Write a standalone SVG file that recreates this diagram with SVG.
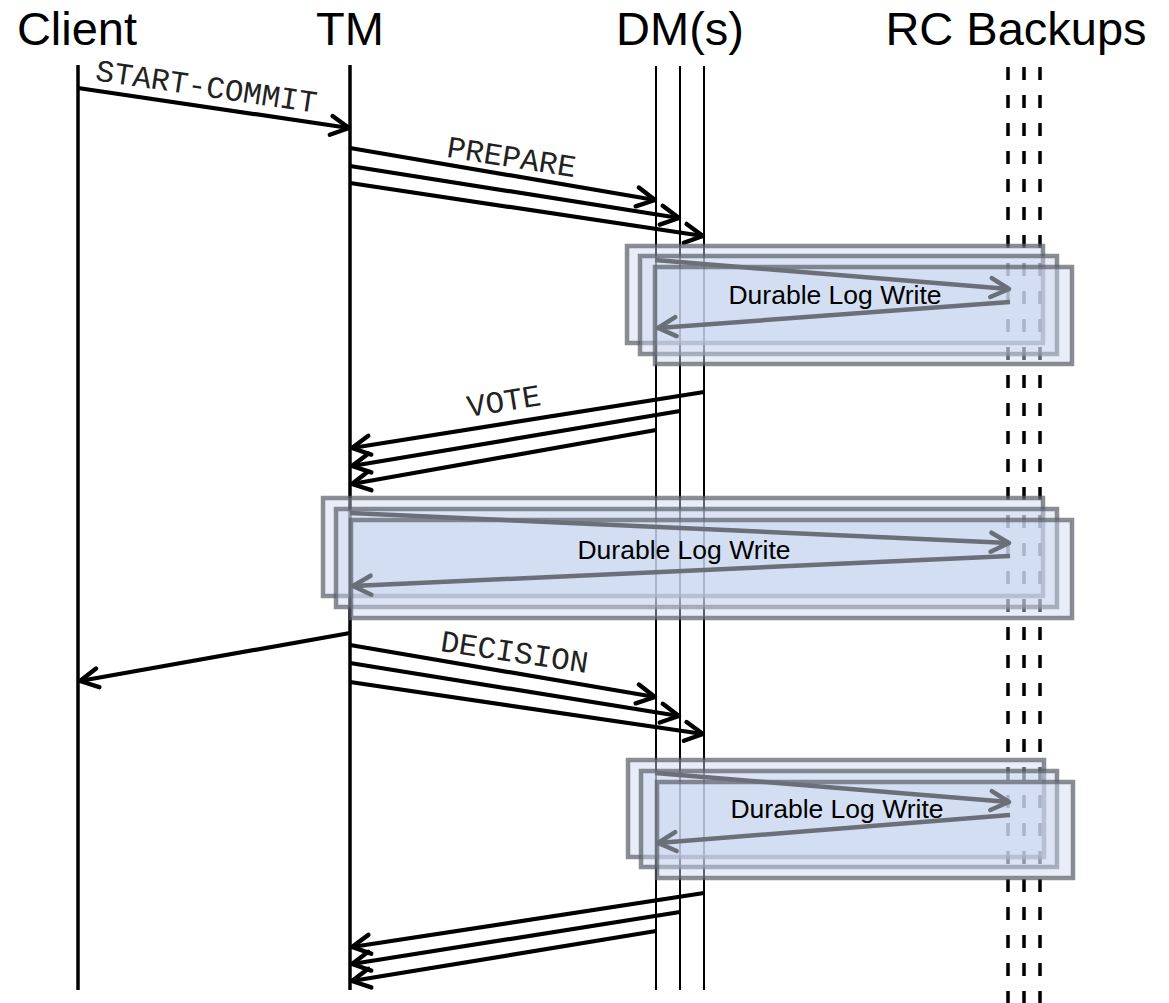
<svg xmlns="http://www.w3.org/2000/svg" width="1169" height="1003" viewBox="0 0 1169 1003">
  <style>
    .hdr { font-family: "Liberation Sans", Arial, sans-serif; font-size: 47px; fill: #000; text-anchor: middle; }
    .msg { font-family: "Liberation Mono", "Courier New", monospace; font-size: 31px; fill: #222; text-anchor: middle; }
    .lbl { font-family: "Liberation Sans", Arial, sans-serif; font-size: 26.5px; fill: #000; text-anchor: middle; }
    .life { stroke: #000; stroke-width: 3.5; fill: none; }
    .life-thin { stroke: #000; stroke-width: 2; fill: none; }
    .life-dash { stroke: #000; stroke-width: 3.5; stroke-dasharray: 13 15; fill: none; }
    .arrow { stroke: #000; stroke-width: 4.2; fill: none; marker-end: url(#head); }
    .garrow { stroke: #6a6f78; stroke-width: 4.5; fill: none; marker-end: url(#ghead); }
    .box { fill: #cbd8ef; fill-opacity: 0.45; stroke: #5a5e66; stroke-opacity: 0.7; stroke-width: 4.5; }
  </style>
  <defs>
    <marker id="head" markerUnits="userSpaceOnUse" viewBox="-25 -15 30 30" markerWidth="30" markerHeight="30" refX="0" refY="0" orient="auto" overflow="visible">
      <path d="M-18,-9.5 L0,0 L-18,9.5" fill="none" stroke="#000" stroke-width="4.4" stroke-linecap="round" stroke-linejoin="round"/>
    </marker>
    <marker id="ghead" markerUnits="userSpaceOnUse" viewBox="-25 -15 30 30" markerWidth="30" markerHeight="30" refX="0" refY="0" orient="auto" overflow="visible">
      <path d="M-18,-9.5 L0,0 L-18,9.5" fill="none" stroke="#6a6f78" stroke-width="4.5" stroke-linecap="round" stroke-linejoin="round"/>
    </marker>
  </defs>
  <rect width="1169" height="1003" fill="#fff"/>

  <!-- participants -->
  <g id="client">
    <text class="hdr" x="77" y="45">Client</text>
    <line class="life" x1="78" y1="65" x2="78" y2="990"/>
  </g>
  <g id="tm">
    <text class="hdr" x="350" y="45">TM</text>
    <line class="life" x1="350" y1="65" x2="350" y2="990"/>
  </g>
  <g id="dms">
    <text class="hdr" x="680" y="45">DM(s)</text>
    <line class="life-thin" x1="656" y1="66" x2="656" y2="990"/>
    <line class="life-thin" x1="680" y1="66" x2="680" y2="990"/>
    <line class="life-thin" x1="704" y1="66" x2="704" y2="990"/>
  </g>
  <g id="rc-backups">
    <text class="hdr" x="1016" y="45">RC Backups</text>
    <line class="life-dash" x1="1008" y1="67" x2="1008" y2="1003"/>
    <line class="life-dash" x1="1024" y1="67" x2="1024" y2="1003"/>
    <line class="life-dash" x1="1040" y1="67" x2="1040" y2="1003"/>
  </g>

  <!-- messages -->
  <g id="connectors">
    <line class="arrow" x1="78" y1="88" x2="349" y2="128"/>
    <text class="msg" transform="translate(205,96.5) rotate(8.4)">START-COMMIT</text>

    <line class="arrow" x1="350" y1="148" x2="655" y2="200"/>
    <line class="arrow" x1="350" y1="166" x2="679" y2="218"/>
    <line class="arrow" x1="350" y1="183" x2="703" y2="236"/>
    <text class="msg" transform="translate(510,167) rotate(9)">PREPARE</text>

    <line class="arrow" x1="704" y1="392" x2="352" y2="448"/>
    <line class="arrow" x1="680" y1="411" x2="352" y2="466"/>
    <line class="arrow" x1="656" y1="430" x2="352" y2="484"/>
    <text class="msg" transform="translate(505.5,411) rotate(-9.1)">VOTE</text>

    <line class="arrow" x1="350" y1="633" x2="80" y2="681"/>
    <line class="arrow" x1="350" y1="645" x2="655" y2="697"/>
    <line class="arrow" x1="350" y1="663" x2="679" y2="716"/>
    <line class="arrow" x1="350" y1="682" x2="703" y2="734"/>
    <text class="msg" transform="translate(513,662) rotate(8.5)">DECISION</text>

    <line class="arrow" x1="704" y1="893" x2="352" y2="947"/>
    <line class="arrow" x1="680" y1="912" x2="352" y2="964"/>
    <line class="arrow" x1="656" y1="931" x2="352" y2="981"/>
  </g>

  <!-- durable log writes replicated to the RC backups -->
  <g id="log-write-1">
    <rect class="box" x="627" y="246" width="416" height="97"/>
    <rect class="box" x="640" y="256" width="417" height="98"/>
    <rect class="box" x="655" y="267" width="417" height="97"/>
    <line class="garrow" x1="655" y1="260" x2="1009" y2="289"/>
    <line class="garrow" x1="1010" y1="302" x2="658" y2="328"/>
    <text class="lbl" x="835" y="304">Durable Log Write</text>
  </g>
  <g id="log-write-2">
    <rect class="box" x="323" y="498" width="720" height="98"/>
    <rect class="box" x="336" y="509" width="721" height="98"/>
    <rect class="box" x="351" y="520" width="721" height="98"/>
    <line class="garrow" x1="350" y1="513" x2="1009" y2="543"/>
    <line class="garrow" x1="1010" y1="556" x2="353" y2="586"/>
    <text class="lbl" x="684" y="559">Durable Log Write</text>
  </g>
  <g id="log-write-3">
    <rect class="box" x="628" y="760" width="416" height="97"/>
    <rect class="box" x="641" y="771" width="416" height="96"/>
    <rect class="box" x="657" y="782" width="416" height="96"/>
    <line class="garrow" x1="655" y1="773" x2="1009" y2="802"/>
    <line class="garrow" x1="1010" y1="815" x2="658" y2="843"/>
    <text class="lbl" x="837" y="818">Durable Log Write</text>
  </g>
</svg>
